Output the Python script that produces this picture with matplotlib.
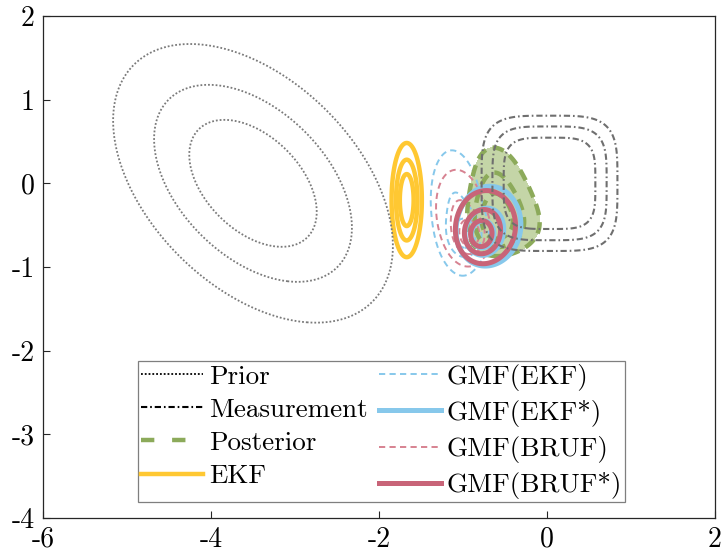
import numpy as np
import matplotlib
matplotlib.use('Agg')
import matplotlib.pyplot as plt
from matplotlib.lines import Line2D

plt.rcParams['font.family'] = 'serif'
plt.rcParams['font.serif'] = ['cmr10']
plt.rcParams['mathtext.fontset'] = 'cm'
plt.rcParams['axes.unicode_minus'] = False

# contour levels, as fractions of each density's peak
levels = [0.25, 0.5, 0.75]

# prior (gaussian)
prior_mean = [-3.5, 0.0]
prior_cov = [[1.0, -0.45], [-0.45, 1.0]]

# measurement likelihood, exp(-(|dx/s|^p + |dy/s|^p))
meas_center = [0.03, 0.0]
meas_scale = 0.745
meas_power = 4

# EKF estimate
ekf_mean = [-1.67, -0.2]
ekf_cov = [[0.0117, 0.0], [0.0, 0.168]]

# gaussian mixture filters: component peak heights, means, covariances
gmf_ekf_heights = [0.5, 0.5]
gmf_ekf_means = [[-0.95, -0.62], [-1.07, -0.35]]
gmf_ekf_covs = [[[0.0169, 0.0], [0.0, 0.0256]],
                [[0.064, -0.03], [-0.03, 0.36]]]

gmf_ekf_star_heights = [0.5, 0.5]
gmf_ekf_star_means = [[-0.79, -0.64], [-0.68, -0.49]]
gmf_ekf_star_covs = [[[0.0169, 0.0], [0.0, 0.0240]],
                     [[0.09, 0.0], [0.0, 0.137]]]

gmf_bruf_heights = [0.5, 0.5]
gmf_bruf_means = [[-0.9, -0.62], [-1.02, -0.4]]
gmf_bruf_covs = [[[0.0144, 0.0], [0.0, 0.0225]],
                 [[0.058, -0.022], [-0.022, 0.2025]]]

gmf_bruf_star_heights = [0.5, 0.5]
gmf_bruf_star_means = [[-0.80, -0.63], [-0.72, -0.50]]
gmf_bruf_star_covs = [[[0.0156, 0.0], [0.0, 0.0225]],
                      [[0.08, 0.0], [0.0, 0.115]]]

# colours
c_gray = '#6f6f6f'
c_green = '#8caa5a'
c_fill = '#c4d5a7'
c_yellow = '#ffc832'
c_blue = '#87c8eb'
c_red = '#c86478'
c_pink = '#d78291'

x = np.linspace(-6, 2, 801)
y = np.linspace(-4, 2, 601)
X, Y = np.meshgrid(x, y)


def gauss(mean, cov):
    P = np.linalg.inv(np.array(cov))
    dx = X - mean[0]
    dy = Y - mean[1]
    q = P[0, 0] * dx**2 + 2 * P[0, 1] * dx * dy + P[1, 1] * dy**2
    return np.exp(-0.5 * q)


def mixture(heights, means, covs):
    Z = np.zeros_like(X)
    for h, m, c in zip(heights, means, covs):
        Z += h * gauss(m, c)
    return Z


def norm(Z):
    return Z / Z.max()


prior = gauss(prior_mean, prior_cov)
lik = np.exp(-(np.abs((X - meas_center[0]) / meas_scale)**meas_power +
               np.abs((Y - meas_center[1]) / meas_scale)**meas_power))
post = prior * lik
ekf = gauss(ekf_mean, ekf_cov)
gmf_ekf = mixture(gmf_ekf_heights, gmf_ekf_means, gmf_ekf_covs)
gmf_ekf_star = mixture(gmf_ekf_star_heights, gmf_ekf_star_means, gmf_ekf_star_covs)
gmf_bruf = mixture(gmf_bruf_heights, gmf_bruf_means, gmf_bruf_covs)
gmf_bruf_star = mixture(gmf_bruf_star_heights, gmf_bruf_star_means, gmf_bruf_star_covs)

fig = plt.figure(figsize=(7.22, 5.56), dpi=100)
ax = fig.add_axes([43 / 722, 38 / 556, 672 / 722, 502 / 556])

ax.contourf(X, Y, norm(post), levels=[levels[0], 1.01], colors=[c_fill], zorder=1)

cs = ax.contour(X, Y, norm(gmf_ekf), levels=levels, colors=c_blue, linewidths=1.4, zorder=2)
cs.set_linestyle((0, (3.2, 2.2)))
cs = ax.contour(X, Y, norm(gmf_bruf), levels=levels, colors=c_pink, linewidths=1.4, zorder=2)
cs.set_linestyle((0, (3.2, 2.2)))

ax.contour(X, Y, norm(ekf), levels=levels, colors=c_yellow, linewidths=3.2, zorder=2)

cs = ax.contour(X, Y, norm(post), levels=levels, colors=c_green, linewidths=3.2, zorder=3)
cs.set_linestyle((0, (2.6, 1.6)))

ax.contour(X, Y, norm(gmf_ekf_star), levels=levels, colors=c_blue, linewidths=3.6, zorder=4)
ax.contour(X, Y, norm(gmf_bruf_star), levels=levels, colors=c_red, linewidths=3.6, zorder=4)

cs = ax.contour(X, Y, norm(lik), levels=levels, colors=c_gray, linewidths=1.5, zorder=5)
cs.set_linestyle((0, (3.0, 1.4, 0.8, 1.4)))
cs = ax.contour(X, Y, norm(prior), levels=levels, colors='#7a7a7a', linewidths=1.3, zorder=5)
cs.set_linestyle((0, (1.0, 1.1)))

ax.set_xlim(-6, 2)
ax.set_ylim(-4, 2)
ax.set_xticks([-6, -4, -2, 0, 2])
ax.set_xticklabels(['-6', '-4', '-2', '0', '2'])
ax.set_yticks([-4, -3, -2, -1, 0, 1, 2])
ax.set_yticklabels(['-4', '-3', '-2', '-1', '0', '1', '2'])
ax.tick_params(direction='in', length=5, width=0.8, labelsize=20, pad=6,
               color='#262626', labelcolor='black')
for sp in ax.spines.values():
    sp.set_color('#262626')
    sp.set_linewidth(0.9)

handles = [
    Line2D([], [], color='black', lw=1.3, linestyle=(0, (1.0, 1.1))),
    Line2D([], [], color='black', lw=1.5, linestyle=(0, (3.0, 1.4, 0.8, 1.4))),
    Line2D([], [], color=c_green, lw=3.2, linestyle=(0, (3.0, 4.0))),
    Line2D([], [], color=c_yellow, lw=3.2),
    Line2D([], [], color=c_blue, lw=1.4, linestyle=(0, (3.2, 2.2))),
    Line2D([], [], color=c_blue, lw=3.6),
    Line2D([], [], color=c_pink, lw=1.4, linestyle=(0, (3.2, 2.2))),
    Line2D([], [], color=c_red, lw=3.6),
]
labels = ['Prior', 'Measurement', 'Posterior', 'EKF',
          'GMF(EKF)', 'GMF(EKF*)', 'GMF(BRUF)', 'GMF(BRUF*)']
leg = ax.legend(handles, labels, ncol=2, loc='lower center',
                bbox_to_anchor=(0.504, 0.032), fontsize=19.5,
                handlelength=2.3, handletextpad=0.22, columnspacing=0.4,
                labelspacing=0.34, borderpad=0.1, borderaxespad=0,
                fancybox=False, framealpha=1, edgecolor='#7f7f7f')
leg.get_frame().set_linewidth(0.9)

fig.savefig('out.png', dpi=100)
